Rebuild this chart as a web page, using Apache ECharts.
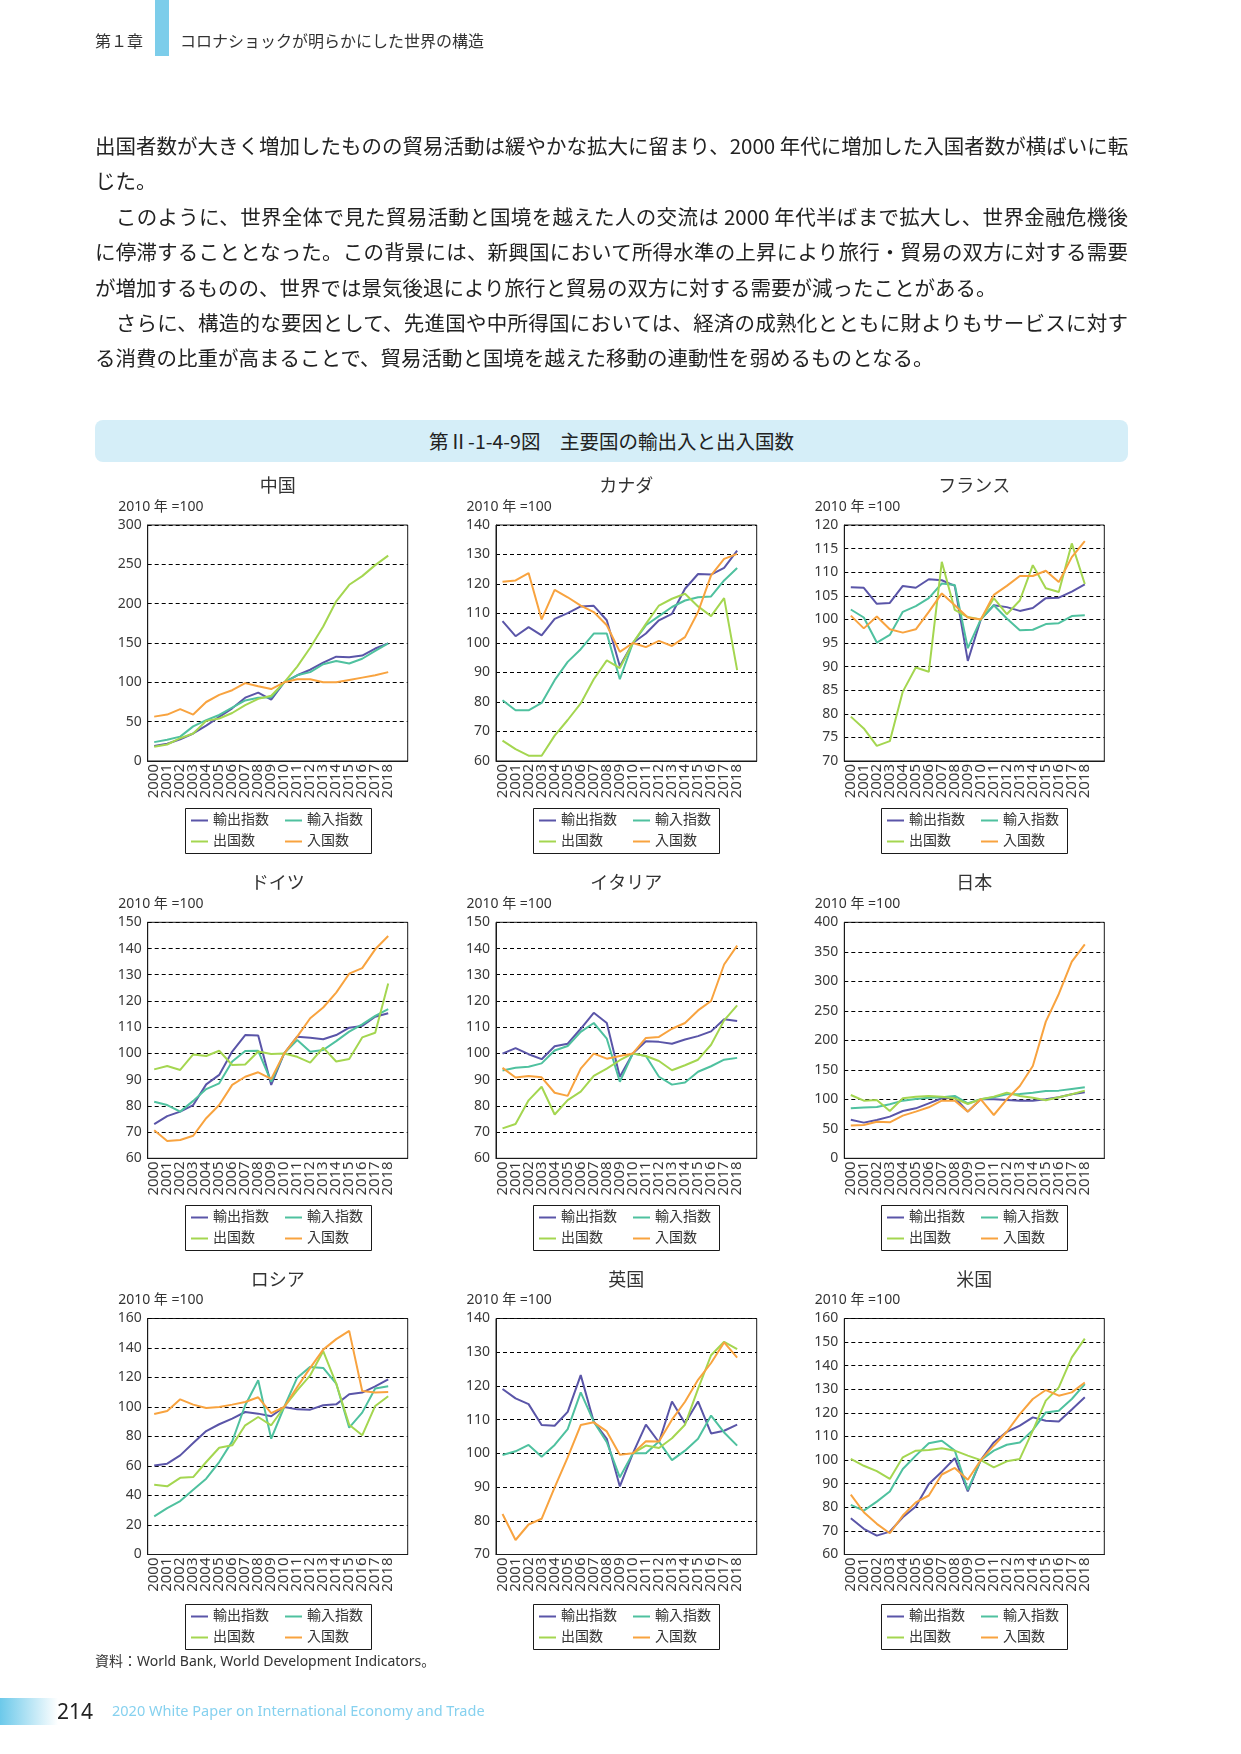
<!DOCTYPE html>
<html>
<head>
<meta charset="utf-8">
<script src="https://cdn.jsdelivr.net/npm/echarts@6/dist/echarts.min.js"></script>
<style>
html,body{margin:0;padding:0;background:#fff;}
body{width:1241px;height:1754px;position:relative;overflow:hidden;font-family:'Noto Sans CJK JP','Noto Sans',sans-serif;color:#222;}
#chart{position:absolute;left:0;top:0;width:1241px;height:1754px;z-index:1;}
.abs{position:absolute;white-space:nowrap;z-index:2;}
.hdr{font-size:16px;line-height:16px;color:#333;top:32px;}
#bar{position:absolute;left:155px;top:0;width:14px;height:56px;background:#7ccdea;}
#body{position:absolute;left:95px;top:128px;width:1033px;font-size:20.5px;line-height:35.4px;color:#222;z-index:2;}
#body div{white-space:nowrap;height:35.4px;}
#body .j{text-align:justify;text-align-last:justify;}
#figbox{position:absolute;left:95px;top:420px;width:1033px;height:42px;border-radius:8px;background:#d5eef8;text-align:center;font-size:19.5px;line-height:42px;color:#222;z-index:2;}
#src{left:95px;top:1654px;font-size:14px;line-height:14px;color:#333;font-family:'Noto Sans','Noto Sans CJK JP',sans-serif;}
#grad{position:absolute;left:0;top:1698px;width:58px;height:27px;background:linear-gradient(to right,#6cc9ea,#ffffff);}
#pg{left:57px;top:1699px;font-size:21px;line-height:24px;color:#222;font-family:'Noto Sans',sans-serif;}
#wp{left:112px;top:1702px;font-size:14.5px;line-height:17px;color:#86d1ef;font-family:'Noto Sans',sans-serif;}
</style>
</head>
<body>
<div class="abs hdr" style="left:95px;">第１章</div>
<div id="bar"></div>
<div class="abs hdr" style="left:180px;">コロナショックが明らかにした世界の構造</div>

<div id="body">
<div class="j">出国者数が大きく増加したものの貿易活動は緩やかな拡大に留まり、2000 年代に増加した入国者数が横ばいに転</div>
<div>じた。</div>
<div class="j">　このように、世界全体で見た貿易活動と国境を越えた人の交流は 2000 年代半ばまで拡大し、世界金融危機後</div>
<div class="j">に停滞することとなった。この背景には、新興国において所得水準の上昇により旅行・貿易の双方に対する需要</div>
<div>が増加するものの、世界では景気後退により旅行と貿易の双方に対する需要が減ったことがある。</div>
<div class="j">　さらに、構造的な要因として、先進国や中所得国においては、経済の成熟化とともに財よりもサービスに対す</div>
<div>る消費の比重が高まることで、貿易活動と国境を越えた移動の連動性を弱めるものとなる。</div>
</div>

<div id="figbox">第Ⅱ-1-4-9図　主要国の輸出入と出入国数</div>

<div id="chart"></div>

<div class="abs" id="src">資料：World Bank, World Development Indicators。</div>
<div id="grad"></div>
<div class="abs" id="pg">214</div>
<div class="abs" id="wp">2020 White Paper on International Economy and Trade</div>

<script>
// ---------- data ----------
const years = ['2000','2001','2002','2003','2004','2005','2006','2007','2008','2009','2010','2011','2012','2013','2014','2015','2016','2017','2018'];
const seriesNames = ['輸出指数','輸入指数','出国数','入国数'];
const countries = ['中国','カナダ','フランス','ドイツ','イタリア','日本','ロシア','英国','米国'];
const unitLabel = '2010 年 =100';
const yMin = [0, 60, 70, 60, 60, 0, 0, 70, 60];
const yMax = [300, 140, 120, 150, 150, 400, 160, 140, 160];
const yStep = [50, 10, 5, 10, 10, 50, 20, 10, 10];

const chinaExport = [19,22,27.5,35,45,56,67,80.5,87,78,100,109,116,125,132.6,132,134,143,149.6];
const chinaImport = [24,27,31,44,52,58.5,68,77,80.5,81,100,109,113,123,127,124,130,140,149.6];
const chinaOutbound = [18,21,29,35,51,54,61,71,79,83,100,120,144,171,203,224,235,249,261];
const chinaInbound = [56.4,59,66,59,75,84,90,99,95,91.5,100,104,104,100,100,103,106,109,113];

const canadaExport = [107.4,102.3,105.4,102.6,108.2,110.1,112.4,112.6,107.7,92.1,100,103.2,107.7,109.9,118.4,123.4,123.2,125.5,131.3];
const canadaImport = [80.6,77.2,77.2,79.7,87.4,93.6,97.9,103.2,103.2,87.7,100,106,109.1,112.2,114.4,115.5,115.8,121.2,125.4];
const canadaOutbound = [66.9,64,61.8,61.8,68.6,73.9,79.5,87.7,94.1,91.5,100,106.5,112.7,115,116.7,112.4,109.1,115.2,90.8];
const canadaInbound = [120.8,121.2,123.7,108,118,115.5,112.7,110.5,106,97,100,98.6,100.7,99,102,110.5,122.9,128.5,130.2];

const franceExport = [106.8,106.7,103.3,103.5,107.1,106.7,108.5,108.3,107.1,91.2,100,103,102.6,101.8,102.4,104.5,104.6,105.9,107.4];
const franceImport = [102.1,100.4,95.1,96.7,101.6,102.8,104.5,107.6,107.3,93.9,100,103,100.2,97.7,97.8,99,99.2,100.7,100.9];
const franceOutbound = [79.4,76.9,73.2,74.2,84.7,89.8,88.9,112.2,102,100.5,100,104.5,101.1,104,111.5,106.6,105.8,116.1,107.5];
const franceInbound = [100.8,98.1,100.6,97.9,97.2,97.9,101.6,105.5,103,100.4,100,105.2,107.1,109.2,109.2,110.3,107.9,113.2,116.6];

const germanyExport = [73,76.1,77.8,80.3,88.2,91.8,100.7,107,106.8,88,100,106.4,106,105.4,107,109.8,110.5,114,115.3];
const germanyImport = [81.6,80.3,77.8,81.9,86.4,88.6,96.9,100.9,101,89.2,100,105.1,100.6,101.3,104.7,108.3,111.1,114.3,116.9];
const germanyOutbound = [93.9,95.2,93.7,99.6,99,101,95.6,95.8,100.7,99.8,100,98.7,96.5,102.2,96.9,97.9,106.1,107.9,126.7];
const germanyInbound = [70.7,66.6,67,68.6,75.3,80.3,88,91.1,92.8,90.3,100,106.4,113.4,117.5,123.2,130.4,132.5,139.7,144.8];

const italyExport = [99.9,102,99.7,97.8,102.7,103.7,109.4,115.5,111.6,91.1,100,104.6,104.4,103.7,105.3,106.6,108.4,113,112.4];
const italyImport = [93.5,94.5,94.9,96.2,101.1,102.8,108.2,111.6,105.6,89.2,100,99,91.1,88.1,88.9,93,95.1,97.6,98.3];
const italyOutbound = [71.4,73.1,82.1,87.3,76.7,82.2,85.4,91.4,94.2,97.4,100,99,97.1,93.6,95.5,97.6,103.3,112.6,118.3];
const italyInbound = [94.5,90.8,91.4,90.9,85,83.8,94.2,99.9,98,99,100,105.9,106.3,109.4,111.6,116.4,120,133.9,141.1];

const japanExport = [65.5,60.5,65,70.6,80.2,84.7,93.2,101.7,102.8,79.1,100,100,98.9,97.7,97.7,100,103.4,108.5,111.9];
const japanImport = [84.7,85.9,87,91.5,97.7,100.6,102.8,103.4,105.6,93.2,100,103.4,108.5,109,111.3,114.1,114.7,117.5,120.3];
const japanOutbound = [107.3,97.7,98.9,80.2,101.7,104.5,105.6,104.5,101.7,92.1,100,104.5,111.3,105.6,102.8,98.3,103.4,108.5,114.7];
const japanInbound = [55.4,56.5,62.1,61,72.3,79.1,86.4,97.7,97.7,79.1,100,73.4,100,122.6,156.5,231.6,278.5,333.3,362.7];

const russiaExport = [60.4,61.6,67.2,75.6,83.7,88.3,92.1,96.6,95.5,93.7,100,98.4,98.2,101.2,101.8,108.6,109.8,114,118.8];
const russiaImport = [25.8,31.5,36.2,43.9,51.4,62.7,76.7,101.2,118.1,78.5,100,119.9,127.2,126.5,115.9,86,96.2,112.5,114.1];
const russiaOutbound = [47.3,46.2,52,52.5,62.7,72.4,74,87.6,93.2,87.6,100,111.3,121.5,137.8,115.9,88,80.8,100.7,107.3];
const russiaInbound = [95.3,97.3,105.2,101.6,99.3,100,101.6,103.4,106.6,95.9,100,113.6,126.5,138.9,146,151.6,110.9,109.8,110.2];

const ukExport = [119.1,116.3,114.6,108.4,108.2,112.3,123.2,109.4,104.3,90.2,100,108.5,103.3,115.4,108.9,115.4,105.9,106.7,108.5];
const ukImport = [99.5,100.6,102.5,99,102.5,107.2,118.1,109.4,103.3,92.9,100,100,103.5,98,100.8,104.3,111.2,106.2,102.3];
const ukOutbound = [null,null,null,null,null,null,null,null,null,null,100,102.3,101.6,104.5,108.5,119.1,129.1,133.1,130.9];
const ukInbound = [82,74.3,78.9,80.6,89.9,98.8,108.4,109.2,106.5,99.6,100,103.6,103.5,110,115.3,121.8,126.8,132.9,128.4];

const usExport = [75.4,70.9,68,69.7,75.8,80.3,89.9,95.1,100.8,86.7,100,107.5,112,114.6,118.1,116.7,116.4,121.4,126.6];
const usImport = [81,78.6,82.4,86.7,96.2,101.9,107.1,108.2,104,87.4,100,104,106.5,107.5,112.7,120.2,120.9,125.9,132.2];
const usOutbound = [100.5,97.6,95.3,92,101.2,104,104.3,105,104,101.9,100,96.9,99.5,100.5,112.5,125.2,130.8,143.5,151.5];
const usInbound = [85.4,77.9,73,69,76.5,82.1,85,93.9,96.7,91.7,100,106.1,112,119.5,125.9,129.7,127.3,128.7,132.9];

// ---------- build ----------
const countryData = [
  [chinaExport, chinaImport, chinaOutbound, chinaInbound],
  [canadaExport, canadaImport, canadaOutbound, canadaInbound],
  [franceExport, franceImport, franceOutbound, franceInbound],
  [germanyExport, germanyImport, germanyOutbound, germanyInbound],
  [italyExport, italyImport, italyOutbound, italyInbound],
  [japanExport, japanImport, japanOutbound, japanInbound],
  [russiaExport, russiaImport, russiaOutbound, russiaInbound],
  [ukExport, ukImport, ukOutbound, ukInbound],
  [usExport, usImport, usOutbound, usInbound]
];
const xCategories = years.concat(['']);

const colors = ['#5a55a8', '#4fc19f', '#a4d650', '#f8a33f'];
const FONT = "'Noto Sans', 'Noto Sans CJK JP', sans-serif";
const colLeft = [147.7, 496, 844.3];
const colWidth = [260, 260.7, 260];
const rowTop = [525, 922.3, 1318.5];
const plotH = 236;
const legendTop = [808, 1205, 1604];

const option = {
  animation: false,
  backgroundColor: 'transparent',
  title: [], grid: [], xAxis: [], yAxis: [], legend: [], series: [], graphic: []
};

countries.forEach((name, i) => {
  const r = Math.floor(i / 3), c = i % 3;
  const left = colLeft[c], top = rowTop[r], w = colWidth[c];
  option.title.push({
    text: name, left: left + w / 2, top: top - 47, textAlign: 'center', padding: 0,
    textStyle: { fontSize: 18, fontWeight: 'normal', color: '#333', fontFamily: FONT }
  });
  option.title.push({
    text: unitLabel, left: left - 29.5, top: top - 25, padding: 0,
    textStyle: { fontSize: 14, fontWeight: 'normal', color: '#333', fontFamily: FONT }
  });
  option.grid.push({
    left: left, top: top, width: w, height: plotH,
    show: true, borderColor: '#1a1a1a', borderWidth: 1, backgroundColor: 'transparent',
    containLabel: false, outerBoundsMode: 'none'
  });
  option.xAxis.push({
    type: 'category', gridIndex: i, data: xCategories, boundaryGap: true,
    axisLine: { show: true, lineStyle: { color: '#1a1a1a', width: 1 } },
    axisTick: { show: false },
    splitLine: { show: false },
    axisLabel: { interval: 0, rotate: 90, margin: 3, fontSize: 15, color: '#3a3a3a', fontFamily: FONT }
  });
  option.yAxis.push({
    type: 'value', gridIndex: i, min: yMin[i], max: yMax[i], interval: yStep[i],
    axisLine: { show: true, lineStyle: { color: '#1a1a1a', width: 1 } },
    axisTick: { show: false },
    splitLine: { show: true, lineStyle: { color: '#000', width: 1, type: [4, 3] } },
    axisLabel: { margin: 6, fontSize: 14, color: '#3a3a3a', fontFamily: FONT, showMinLabel: true, showMaxLabel: true }
  });
  // legend: two columns inside a framed box
  const lgLeft = Math.round(left + 36.8) + 0.5;
  const lgTop = legendTop[r] + 0.5;
  option.graphic.push({
    type: 'rect', silent: true, z: 10,
    shape: { x: lgLeft, y: lgTop, width: 186, height: 45 },
    style: { fill: 'none', stroke: '#1a1a1a', lineWidth: 1 }
  });
  [[0, 2], [1, 3]].forEach((pair, col) => {
    option.legend.push({
      data: pair.map(k => seriesNames[k]),
      left: lgLeft + 5.5 + col * 94, top: lgTop + 5, orient: 'vertical',
      icon: 'rect', itemWidth: 17, itemHeight: 2, itemGap: 7, padding: 0,
      textStyle: { fontSize: 14, color: '#333', fontFamily: FONT }
    });
  });
  countryData[i].forEach((vals, k) => {
    option.series.push({
      type: 'line', name: seriesNames[k], xAxisIndex: i, yAxisIndex: i,
      data: vals, symbol: 'none', showSymbol: false, connectNulls: false,
      color: colors[k], lineStyle: { color: colors[k], width: 2 },
      emphasis: { disabled: true }, z: 2 + k
    });
  });
});

const chart = echarts.init(document.getElementById('chart'), null, { renderer: 'canvas' });
chart.setOption(option);
</script>
</body>
</html>
